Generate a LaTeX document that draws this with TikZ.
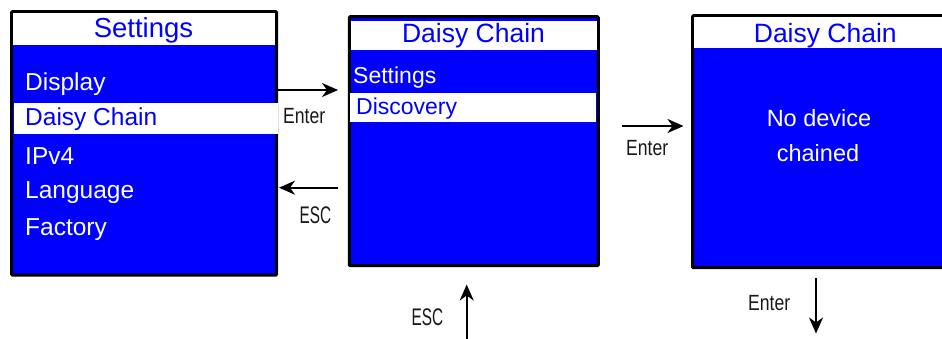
\documentclass[tikz,border=0pt]{standalone}
\usepackage{fontspec}
\setmainfont{Liberation Sans}
\newfontfamily\narrowfont[FakeStretch=0.8]{Liberation Sans}
\newfontfamily\narrowerfont[FakeStretch=0.64]{Liberation Sans}
\usetikzlibrary{arrows.meta}
\definecolor{scrblue}{RGB}{0,0,255}
\begin{document}
\begin{tikzpicture}[x=1pt,y=-1pt,
  screen/.style={draw=black, line width=3pt, fill=scrblue, rectangle, inner sep=0pt, outer sep=0pt, rounded corners=1pt},
  band/.style={fill=white, rectangle, inner sep=0pt, outer sep=0pt},
  title/.style={text=scrblue, font=\fontsize{26.5}{26.5}\selectfont, anchor=base, inner sep=0pt},
  item/.style={text=white, font=\fontsize{24.5}{24.5}\selectfont, anchor=base west, inner sep=0pt},
  sitem/.style={text=white, font=\fontsize{23}{23}\selectfont, anchor=base west, inner sep=0pt},
  msg/.style={text=white, font=\fontsize{23.5}{23.5}\selectfont, anchor=base, inner sep=0pt},
  lbl/.style={text=black!90, font=\narrowfont\fontsize{22}{22}\selectfont, anchor=base west, inner sep=0pt},
  esclbl/.style={text=black!90, font=\narrowerfont\fontsize{24}{24}\selectfont, anchor=base west, inner sep=0pt},
  arr/.style={line width=2pt, -{Stealth[length=16pt,width=14pt,inset=5pt]}}
]
\useasboundingbox (0,0) rectangle (942,339);
\clip (0,0) rectangle (942,339);

% left screen
\node[screen, minimum width=265pt, minimum height=263.5pt] (lbox) at (144.1,143.4) {};
\node[band, minimum width=261.7pt, minimum height=31.7pt] (lband) at (144.15,29.15) {};
\node[band, minimum width=264.3pt, minimum height=31pt] (lsel) at (146.15,118.5) {};
\node[title, font=\fontsize{27.5}{27.5}\selectfont] (ltitle) at (143.5,37.3) {Settings};
\node[item] (l1) at (25,90.5) {Display};
\node[item, text=scrblue] (l2) at (25,126) {Daisy Chain};
\node[item] (l3) at (25,165) {IPv4};
\node[item] (l4) at (25,199) {Language};
\node[item] (l5) at (25,235) {Factory};

% middle screen
\node[screen, minimum width=249pt, minimum height=249pt] (mbox) at (473.8,141.2) {};
\node[band, minimum width=245.7pt, minimum height=29.3pt] (mband) at (473.85,35.35) {};
\node[band, minimum width=246pt, minimum height=29pt] (msel) at (473,107.2) {};
\node[title] (mtitle) at (473.5,42.7) {Daisy Chain};
\node[sitem] (m1) at (353,83.3) {Settings};
\node[sitem, text=scrblue] (m2) at (356,115) {Discovery};

% right screen
\node[screen, minimum width=266.5pt, minimum height=252pt] (rbox) at (825.75,141.7) {};
\node[band, minimum width=263.5pt, minimum height=30.4pt] (rband) at (825.75,32.5) {};
\node[title] (rtitle) at (825.3,42.7) {Daisy Chain};
\node[msg] (r1) at (819,126.7) {No device};
\node[msg] (r2) at (818,161.7) {chained};

% arrows
\coordinate (a1s) at (278,90);
\coordinate (a1e) at (338,90);
\coordinate (a2s) at (338,187.7);
\coordinate (a2e) at (279,187.7);
\coordinate (a3s) at (621.7,126);
\coordinate (a3e) at (683.5,126);
\coordinate (a4s) at (466.7,339);
\coordinate (a4e) at (466.7,284.5);
\coordinate (a5s) at (816,278);
\coordinate (a5e) at (816,333.5);
\draw[arr, line width=1.6pt] (a1s) -- (a1e);
\draw[arr] (a2s) -- (a2e);
\draw[arr] (a3s) -- (a3e);
\draw[arr] (a4s) -- (a4e);
\draw[arr] (a5s) -- (a5e);

\node[lbl] (t1) at (283,124) {Enter};
\node[esclbl] (t2) at (299.5,223) {ESC};
\node[lbl] (t3) at (626,155.7) {Enter};
\node[esclbl] (t4) at (411.5,325) {ESC};
\node[lbl] (t5) at (748,310) {Enter};
\end{tikzpicture}
\end{document}
